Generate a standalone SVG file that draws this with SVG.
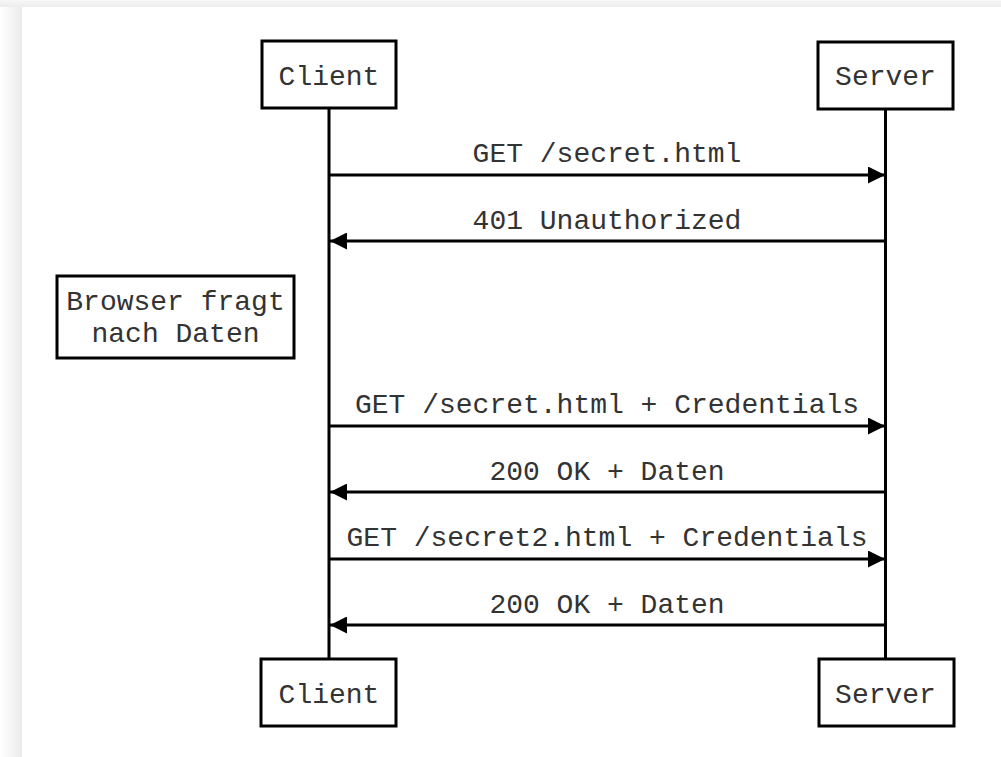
<svg xmlns="http://www.w3.org/2000/svg" width="1001" height="757" viewBox="0 0 1001 757">
  <defs>
    <linearGradient id="shL" x1="0" y1="0" x2="1" y2="0">
      <stop offset="0" stop-color="#ffffff"/>
      <stop offset="1" stop-color="#ebebeb"/>
    </linearGradient>
    <linearGradient id="shT" x1="0" y1="0" x2="0" y2="1">
      <stop offset="0" stop-color="#f7f7f7"/>
      <stop offset="1" stop-color="#ececec"/>
    </linearGradient>
    <marker id="ah" viewBox="0 0 17 17" refX="17" refY="8.5" markerWidth="17" markerHeight="17" markerUnits="userSpaceOnUse" orient="auto">
      <path d="M0,0 L17,8.5 L0,17 Z" fill="#000"/>
    </marker>
    <style>
      .box { fill: #fff; stroke: #000; stroke-width: 3; }
      .life { stroke: #000; stroke-width: 3; fill: none; }
      .msg { stroke: #000; stroke-width: 3; fill: none; marker-end: url(#ah); }
      text { font-family: "Liberation Mono", "Courier New", monospace; font-size: 28px; fill: #333; text-anchor: middle; }
    </style>
  </defs>
  <rect x="0" y="0" width="1001" height="757" fill="#fff"/>
  <rect x="0" y="0" width="22" height="757" fill="url(#shL)"/>
  <rect x="0" y="0" width="1001" height="7" fill="url(#shT)"/>
  <rect x="22" y="7" width="979" height="750" fill="#fff"/>

  <g id="connectors">
    <line class="life" x1="329" y1="108" x2="329" y2="659"/>
    <line class="life" x1="885.5" y1="109" x2="885.5" y2="659"/>
    <line class="msg" x1="329" y1="175" x2="885" y2="175"/>
    <line class="msg" x1="885.5" y1="241" x2="330" y2="241"/>
    <line class="msg" x1="329" y1="426" x2="885" y2="426"/>
    <line class="msg" x1="885.5" y1="492" x2="330" y2="492"/>
    <line class="msg" x1="329" y1="559" x2="885" y2="559"/>
    <line class="msg" x1="885.5" y1="625" x2="330" y2="625"/>
    <text x="607" y="162">GET /secret.html</text>
    <text x="607" y="229">401 Unauthorized</text>
    <text x="607" y="413">GET /secret.html + Credentials</text>
    <text x="607" y="480">200 OK + Daten</text>
    <text x="607" y="546">GET /secret2.html + Credentials</text>
    <text x="607" y="613">200 OK + Daten</text>
  </g>

  <g id="client-top">
    <rect class="box" x="262" y="41" width="134" height="67"/>
    <text x="329" y="85">Client</text>
  </g>
  <g id="server-top">
    <rect class="box" x="818" y="42" width="135" height="67"/>
    <text x="885.5" y="85">Server</text>
  </g>
  <g id="note">
    <rect class="box" x="57" y="276" width="237" height="82"/>
    <text x="175.5" y="310">Browser fragt</text>
    <text x="175.5" y="342">nach Daten</text>
  </g>
  <g id="client-bottom">
    <rect class="box" x="261" y="659" width="135" height="67"/>
    <text x="329" y="703">Client</text>
  </g>
  <g id="server-bottom">
    <rect class="box" x="819" y="659" width="135" height="67"/>
    <text x="885.5" y="703">Server</text>
  </g>
</svg>
